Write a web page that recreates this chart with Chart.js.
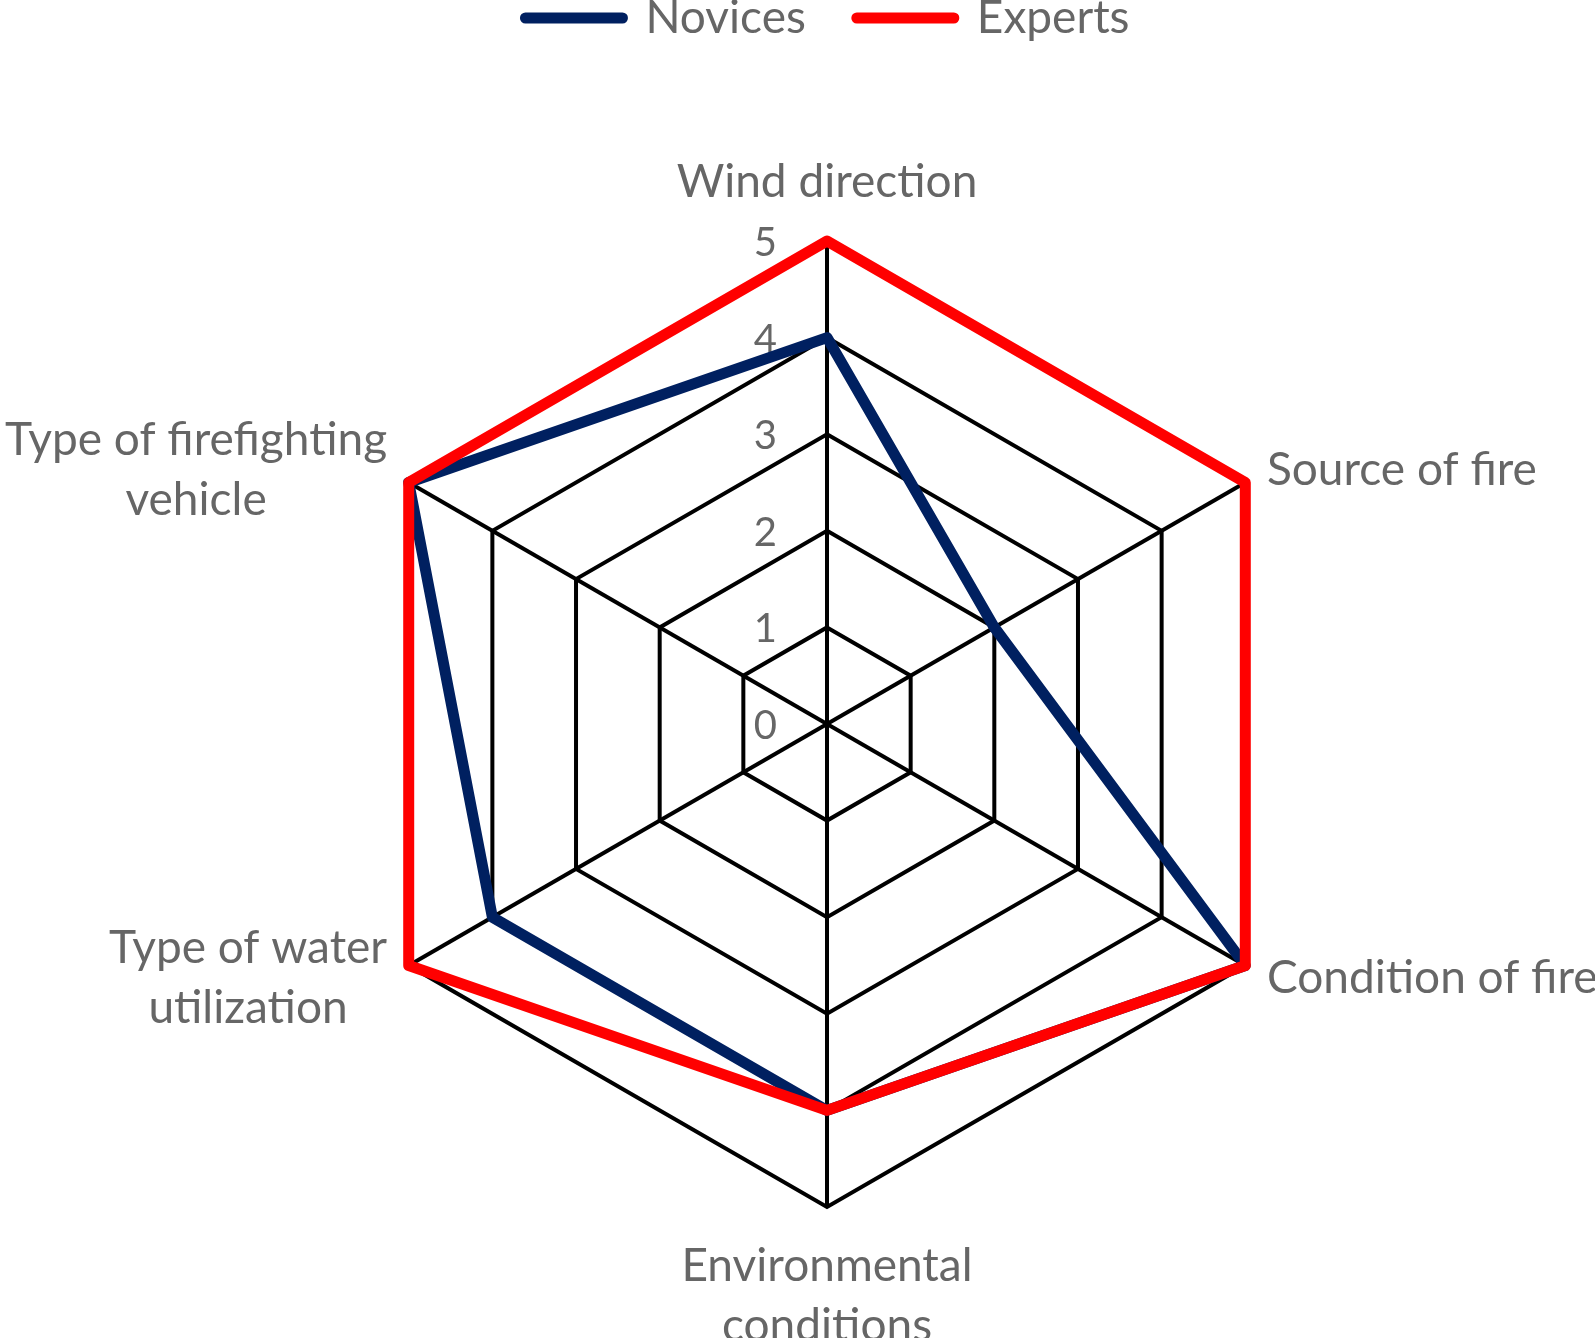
<!DOCTYPE html>
<html>
<head>
<meta charset="utf-8">
<script src="https://cdn.jsdelivr.net/npm/chart.js@4.4.1/dist/chart.umd.min.js"></script>
<style>
  html, body { margin: 0; padding: 0; background: #fff; }
  canvas { display: block; }
</style>
</head>
<body>
<canvas id="radar" width="1595" height="1338"></canvas>
<script>
// Radar: novices vs experts, six cue categories (scale 0-5)
const AXES = [
  ["Wind direction"],
  ["Source of fire"],
  ["Condition of fire"],
  ["Environmental", "conditions"],
  ["Type of water", "utilization"],
  ["Type of firefighting", "vehicle"],
];
const NOVICES = [4, 2, 5, 4, 4, 5];
const EXPERTS = [5, 5, 5, 4, 5, 5];
const TICK_MIN = 0, TICK_MAX = 5, TICK_STEP = 1;

const NAVY = "#002060";
const RED = "#ff0000";
const TEXT = "#666666";
const FONT = "Lato, 'Open Sans', sans-serif";

// tick numbers sit left of the vertical axis, under the series lines
const tickLabels = {
  id: "tickLabels",
  beforeDatasetsDraw(chart) {
    const r = chart.scales.r, ctx = chart.ctx;
    ctx.save();
    ctx.font = `40px ${FONT}`;
    ctx.fillStyle = TEXT;
    ctx.textAlign = "right";
    ctx.textBaseline = "middle";
    r.ticks.forEach((t) => {
      const d = r.getDistanceFromCenterForValue(t.value);
      ctx.fillText(String(t.value), r.xCenter - 50, r.yCenter - d + 2);
    });
    ctx.restore();
  },
};

// category labels, placed Excel-style (side labels centred on the spoke end)
const axisLabels = {
  id: "axisLabels",
  afterDraw(chart) {
    const r = chart.scales.r, ctx = chart.ctx;
    const lh = 60;
    ctx.save();
    ctx.font = `46px ${FONT}`;
    ctx.fillStyle = TEXT;
    ctx.textAlign = "center";
    ctx.textBaseline = "middle";
    chart.data.labels.forEach((lines, i) => {
      const tip = r.getPointPosition(i, r.drawingArea);
      const vertical = Math.abs(tip.x - r.xCenter) < 1;
      const p = r.getPointPosition(i, r.drawingArea + (vertical ? 29 : 25));
      const dx = p.x - r.xCenter, dy = p.y - r.yCenter;
      const w = Math.max(...lines.map((s) => ctx.measureText(s).width));
      const h = lines.length * lh;
      let cx = p.x, top = p.y - h / 2;
      if (vertical) top = dy < 0 ? p.y - h : p.y;
      else cx = dx > 0 ? p.x + w / 2 : p.x - w / 2;
      lines.forEach((s, k) => ctx.fillText(s, cx, top + lh * (k + 0.5)));
    });
    ctx.restore();
  },
};

function series(label, data, color, order) {
  return {
    label, data, order,
    borderColor: color, backgroundColor: color,
    borderWidth: 11, borderJoinStyle: "round", fill: false,
    pointRadius: 0, pointHoverRadius: 0,
    pointBorderWidth: 11, pointBorderColor: color, pointBackgroundColor: color,
  };
}

new Chart(document.getElementById("radar"), {
  type: "radar",
  data: {
    labels: AXES,
    datasets: [
      series("Novices", NOVICES, NAVY, 1),
      series("Experts", EXPERTS, RED, 0),
    ],
  },
  options: {
    responsive: false,
    animation: false,
    layout: { padding: { top: -56, left: 60, right: 0, bottom: 130 } },
    plugins: {
      legend: {
        position: "top",
        labels: {
          usePointStyle: true,
          pointStyle: "line",
          pointStyleWidth: 97,
          padding: 51,
          color: TEXT,
          font: { family: FONT, size: 46 },
          sort: (a, b) => a.datasetIndex - b.datasetIndex,
          generateLabels: (chart) =>
            Chart.defaults.plugins.legend.labels.generateLabels(chart)
              .map((it) => ({ ...it, lineCap: "round" })),
        },
      },
      // empty spacer between legend and plot
      title: {
        display: true, text: "", weight: 0,
        font: { size: 2, lineHeight: 1 },
        padding: { top: 0, bottom: 188 },
      },
      tooltip: { enabled: false },
    },
    scales: {
      r: {
        min: TICK_MIN, max: TICK_MAX,
        ticks: { stepSize: TICK_STEP, display: false },
        grid: { color: "#000", lineWidth: 4 },
        angleLines: { color: "#000", lineWidth: 4 },
        pointLabels: { display: false },
      },
    },
  },
  plugins: [tickLabels, axisLabels],
});
</script>
</body>
</html>
